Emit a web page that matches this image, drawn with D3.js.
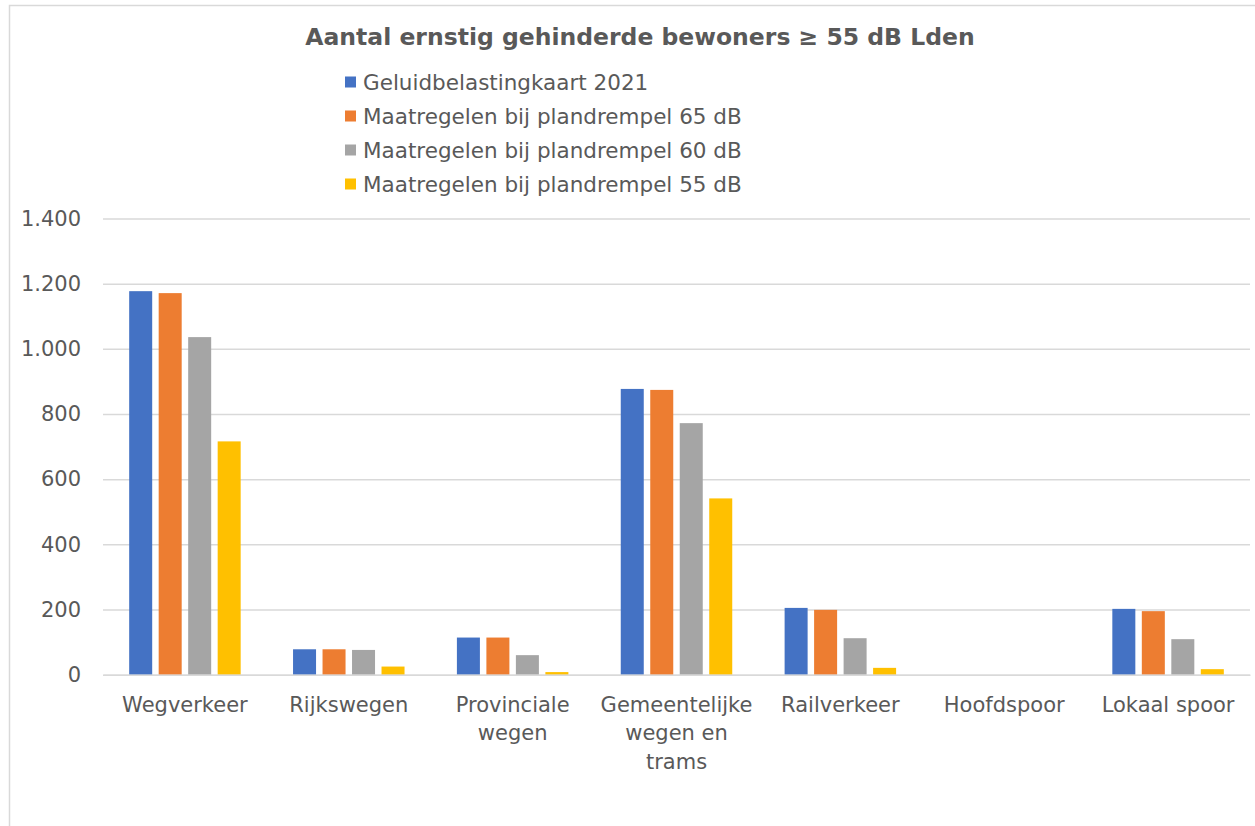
<!DOCTYPE html>
<html>
<head>
<meta charset="utf-8">
<script src="https://cdn.jsdelivr.net/npm/d3@7"></script>
<style>
  body { margin: 0; background: #fff; }
  text { font-family: "DejaVu Sans", Verdana, sans-serif; fill: #595959; }
</style>
</head>
<body>
<div class="canvas"></div>
<script>
// data
const categories = ['Wegverkeer', 'Rijkswegen', 'Provinciale wegen', 'Gemeentelijke wegen en trams', 'Railverkeer', 'Hoofdspoor', 'Lokaal spoor'];
const seriesNames = ['Geluidbelastingkaart 2021', 'Maatregelen bij plandrempel 65 dB', 'Maatregelen bij plandrempel 60 dB', 'Maatregelen bij plandrempel 55 dB'];
const kaart2021 = [1177, 78, 114, 877, 205, 0, 202];
const drempel65 = [1171, 78, 114, 874, 199, 0, 195];
const drempel60 = [1036, 76, 60, 772, 112, 0, 109];
const drempel55 = [716, 25, 8, 541, 21, 0, 17];
const yTicks = [0, 200, 400, 600, 800, 1000, 1200, 1400];
const colours = ['#4472C4', '#ED7D31', '#A5A5A5', '#FFC000'];
const title = 'Aantal ernstig gehinderde bewoners \u2265 55 dB Lden';

const seriesValues = [kaart2021, drempel65, drempel60, drempel55];

const dims = { width: 1255, height: 826 };
const plot = { left: 103, right: 1250, top: 218.5, bottom: 674.7 };

const svg = d3.select('.canvas')
    .append('svg')
    .attr('width', dims.width)
    .attr('height', dims.height);

// chart frame
svg.append('rect')
    .attr('x', 9.5).attr('y', 5.5)
    .attr('width', 1300).attr('height', 900)
    .attr('fill', 'none')
    .attr('stroke', '#d9d9d9')
    .attr('stroke-width', 1.5);

const x0 = d3.scaleBand()
    .domain(categories)
    .range([plot.left, plot.right])
    .paddingInner(0.28)
    .paddingOuter(0.14);

const x1 = d3.scaleBand()
    .domain(d3.range(seriesNames.length))
    .range([0, x0.bandwidth()])
    .paddingInner(0.22)
    .paddingOuter(0.11);

const y = d3.scaleLinear()
    .domain([0, 1400])
    .range([plot.bottom, plot.top]);

const nl = d3.formatLocale({ decimal: ',', thousands: '.', grouping: [3], currency: ['€', ''] });
const fmt = nl.format(',d');

// gridlines + y labels
const yAxis = d3.axisLeft(y)
    .tickValues(yTicks)
    .tickFormat(fmt)
    .tickSize(-(plot.right - plot.left))
    .tickPadding(22);

const yG = svg.append('g')
    .attr('transform', `translate(${plot.left},0)`)
    .call(yAxis);
yG.select('.domain').remove();
yG.selectAll('line').attr('stroke', '#d9d9d9').attr('stroke-width', 1.5);
yG.selectAll('text')
    .attr('font-size', 21)
    .style('font-family', '"DejaVu Sans", Verdana, sans-serif')
    .attr('fill', '#595959');

// bars
const groups = svg.append('g')
    .selectAll('g')
    .data(categories)
    .join('g')
    .attr('transform', d => `translate(${x0(d)},0)`);

groups.selectAll('rect')
    .data((c, ci) => seriesValues.map((vals, si) => ({ si, v: vals[ci] })))
    .join('rect')
    .attr('x', d => x1(d.si))
    .attr('width', x1.bandwidth())
    .attr('y', d => y(d.v))
    .attr('height', d => y(0) - y(d.v))
    .attr('fill', d => colours[d.si]);

// category labels with wrapping
const xAxis = d3.axisBottom(x0).tickSize(0).tickPadding(22);
const xG = svg.append('g')
    .attr('transform', `translate(0,${plot.bottom})`)
    .call(xAxis);
xG.select('.domain').attr('stroke', '#d9d9d9').attr('stroke-width', 1.5);
xG.selectAll('text')
    .attr('font-size', 21)
    .style('font-family', '"DejaVu Sans", Verdana, sans-serif')
    .attr('fill', '#595959')
    .call(wrap, 145);

function wrap(sel, width) {
    sel.each(function() {
        const text = d3.select(this);
        const words = text.text().split(/\s+/);
        const yy = text.attr('y');
        const dy = parseFloat(text.attr('dy'));
        text.text(null);
        let line = [];
        let lineNo = 0;
        let tspan = text.append('tspan').attr('x', 0).attr('y', yy).attr('dy', dy + 'em');
        words.forEach(w => {
            line.push(w);
            tspan.text(line.join(' '));
            if (tspan.node().getComputedTextLength() > width && line.length > 1) {
                line.pop();
                tspan.text(line.join(' '));
                line = [w];
                lineNo++;
                tspan = text.append('tspan').attr('x', 0).attr('y', yy)
                    .attr('dy', (lineNo * 1.36 + dy) + 'em').text(w);
            }
        });
    });
}

// title
svg.append('text')
    .attr('x', 640)
    .attr('y', 37)
    .attr('text-anchor', 'middle')
    .attr('dominant-baseline', 'central')
    .attr('font-size', 23.5)
    .attr('font-weight', 'bold')
    .text(title);

// legend
const legend = svg.append('g')
    .selectAll('g')
    .data(seriesNames)
    .join('g')
    .attr('transform', (d, i) => `translate(345,${82 + i * 34})`);

legend.append('rect')
    .attr('x', 0).attr('y', -5.5)
    .attr('width', 11).attr('height', 11)
    .attr('fill', (d, i) => colours[i]);

legend.append('text')
    .attr('x', 18)
    .attr('y', 0)
    .attr('dominant-baseline', 'central')
    .attr('font-size', 21.5)
    .text(d => d);
</script>
</body>
</html>
